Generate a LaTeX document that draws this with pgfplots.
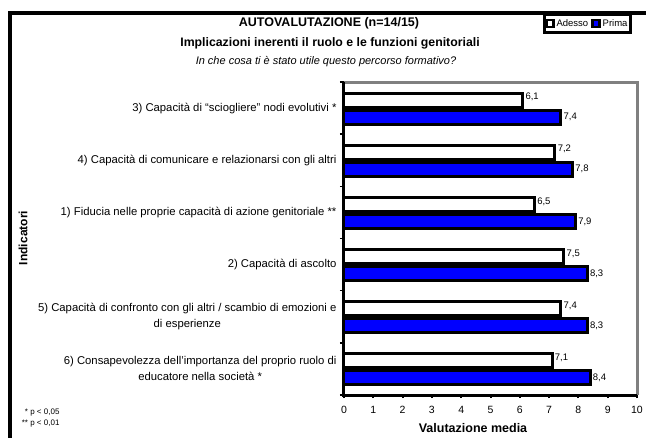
\documentclass[border=0pt]{standalone}
\usepackage{pgfplots}
\pgfplotsset{compat=1.18}
\usepackage{fontspec}
\setmainfont{Liberation Sans}
\definecolor{barblue}{RGB}{0,0,255}
\definecolor{framegray}{RGB}{128,128,128}
\begin{document}
\begin{tikzpicture}[x=1pt,y=1pt]
\useasboundingbox (0,0) rectangle (646,437);
% outer frame (left and top edges visible)
\draw[line width=4pt] (10,-5) -- (10,424) -- (660,424);
% titles
\node[font=\fontsize{12.5}{14}\selectfont\bfseries] at (329,414) {AUTOVALUTAZIONE (n=14/15)};
\node[font=\fontsize{12.3}{14}\selectfont\bfseries] at (330,394) {Implicazioni inerenti il ruolo e le funzioni genitoriali};
\node[font=\fontsize{11}{13}\selectfont\itshape] at (326,375) {In che cosa ti è stato utile questo percorso formativo?};
\node[font=\fontsize{12}{14}\selectfont\bfseries,rotate=90] at (23,199) {Indicatori};
\node[font=\fontsize{12.5}{14}\selectfont\bfseries] at (473,9) {Valutazione media};
\node[font=\fontsize{8}{11}\selectfont,align=right,anchor=north east] at (63,32) {* p < 0,05\\** p < 0,01};
\begin{axis}[
  at={(344pt,42pt)}, anchor=south west,
  scale only axis, width=293pt, height=313pt,
  xbar, y dir=reverse,
  bar width=14pt,
  xmin=0, xmax=10, ymin=-0.5, ymax=5.5,
  xtick={0,1,...,10}, xtick pos=left,
  ytick={0,...,5}, ytick pos=left,
  minor ytick={-0.5,0.5,...,5.5},
  yticklabels={
    {3) Capacità di “sciogliere” nodi evolutivi *},
    {4) Capacità di comunicare e relazionarsi con gli altri},
    {1) Fiducia nelle proprie capacità di azione genitoriale **},
    {2) Capacità di ascolto},
    {5) Capacità di confronto con gli altri / scambio di emozioni e\\di esperienze},
    {6) Consapevolezza dell'importanza del proprio ruolo di\\educatore nella società *}},
  yticklabel style={align=center, font=\fontsize{11.3}{16}\selectfont, xshift=-1pt},
  xticklabel style={font=\fontsize{10.5}{12}\selectfont, yshift=-5pt},
  /pgf/number format/assume math mode=true,
  tick align=outside,
  major tick length=3pt, minor tick length=4pt,
  major y tick style={draw=none},
  minor y tick style={black, line width=1.5pt},
  major x tick style={black, line width=2pt},
  axis line style={draw=none},
  nodes near coords,
  nodes near coords align=horizontal,
  every node near coord/.append style={font=\fontsize{9.5}{11}\selectfont, xshift=-2pt,
    /pgf/number format/fixed, /pgf/number format/fixed zerofill,
    /pgf/number format/precision=1, /pgf/number format/use comma,
    /pgf/number format/assume math mode=true},
  legend columns=2,
  legend style={at={(axis description cs:0.983,1.22)}, anchor=north east,
    line width=3pt, draw=black, font=\fontsize{9.5}{10}\selectfont,
    inner xsep=1pt, inner ysep=2.5pt,
    /tikz/every even column/.append style={column sep=1pt}},
  legend image code/.code={\draw[line width=2.5pt,#1] (0pt,-3.5pt) rectangle (7pt,3.5pt);},
  after end axis/.code={
    \draw[framegray, line width=3pt] (rel axis cs:0,1) -- (rel axis cs:1,1) -- (rel axis cs:1,0);
    \draw[black, line width=3pt] (rel axis cs:0,1) -- (rel axis cs:0,0) -- (rel axis cs:1,0);
  },
]
\addplot[fill=white, draw=black, line width=3pt, bar shift=8pt,
  every node near coord/.append style={yshift=3pt}]
  coordinates {(6.1,0) (7.2,1) (6.5,2) (7.5,3) (7.4,4) (7.1,5)};
\addplot[fill=barblue, draw=black, line width=3pt, bar shift=-9pt]
  coordinates {(7.4,0) (7.8,1) (7.9,2) (8.3,3) (8.3,4) (8.4,5)};
\legend{Adesso, Prima}
\end{axis}
\end{tikzpicture}
\end{document}
